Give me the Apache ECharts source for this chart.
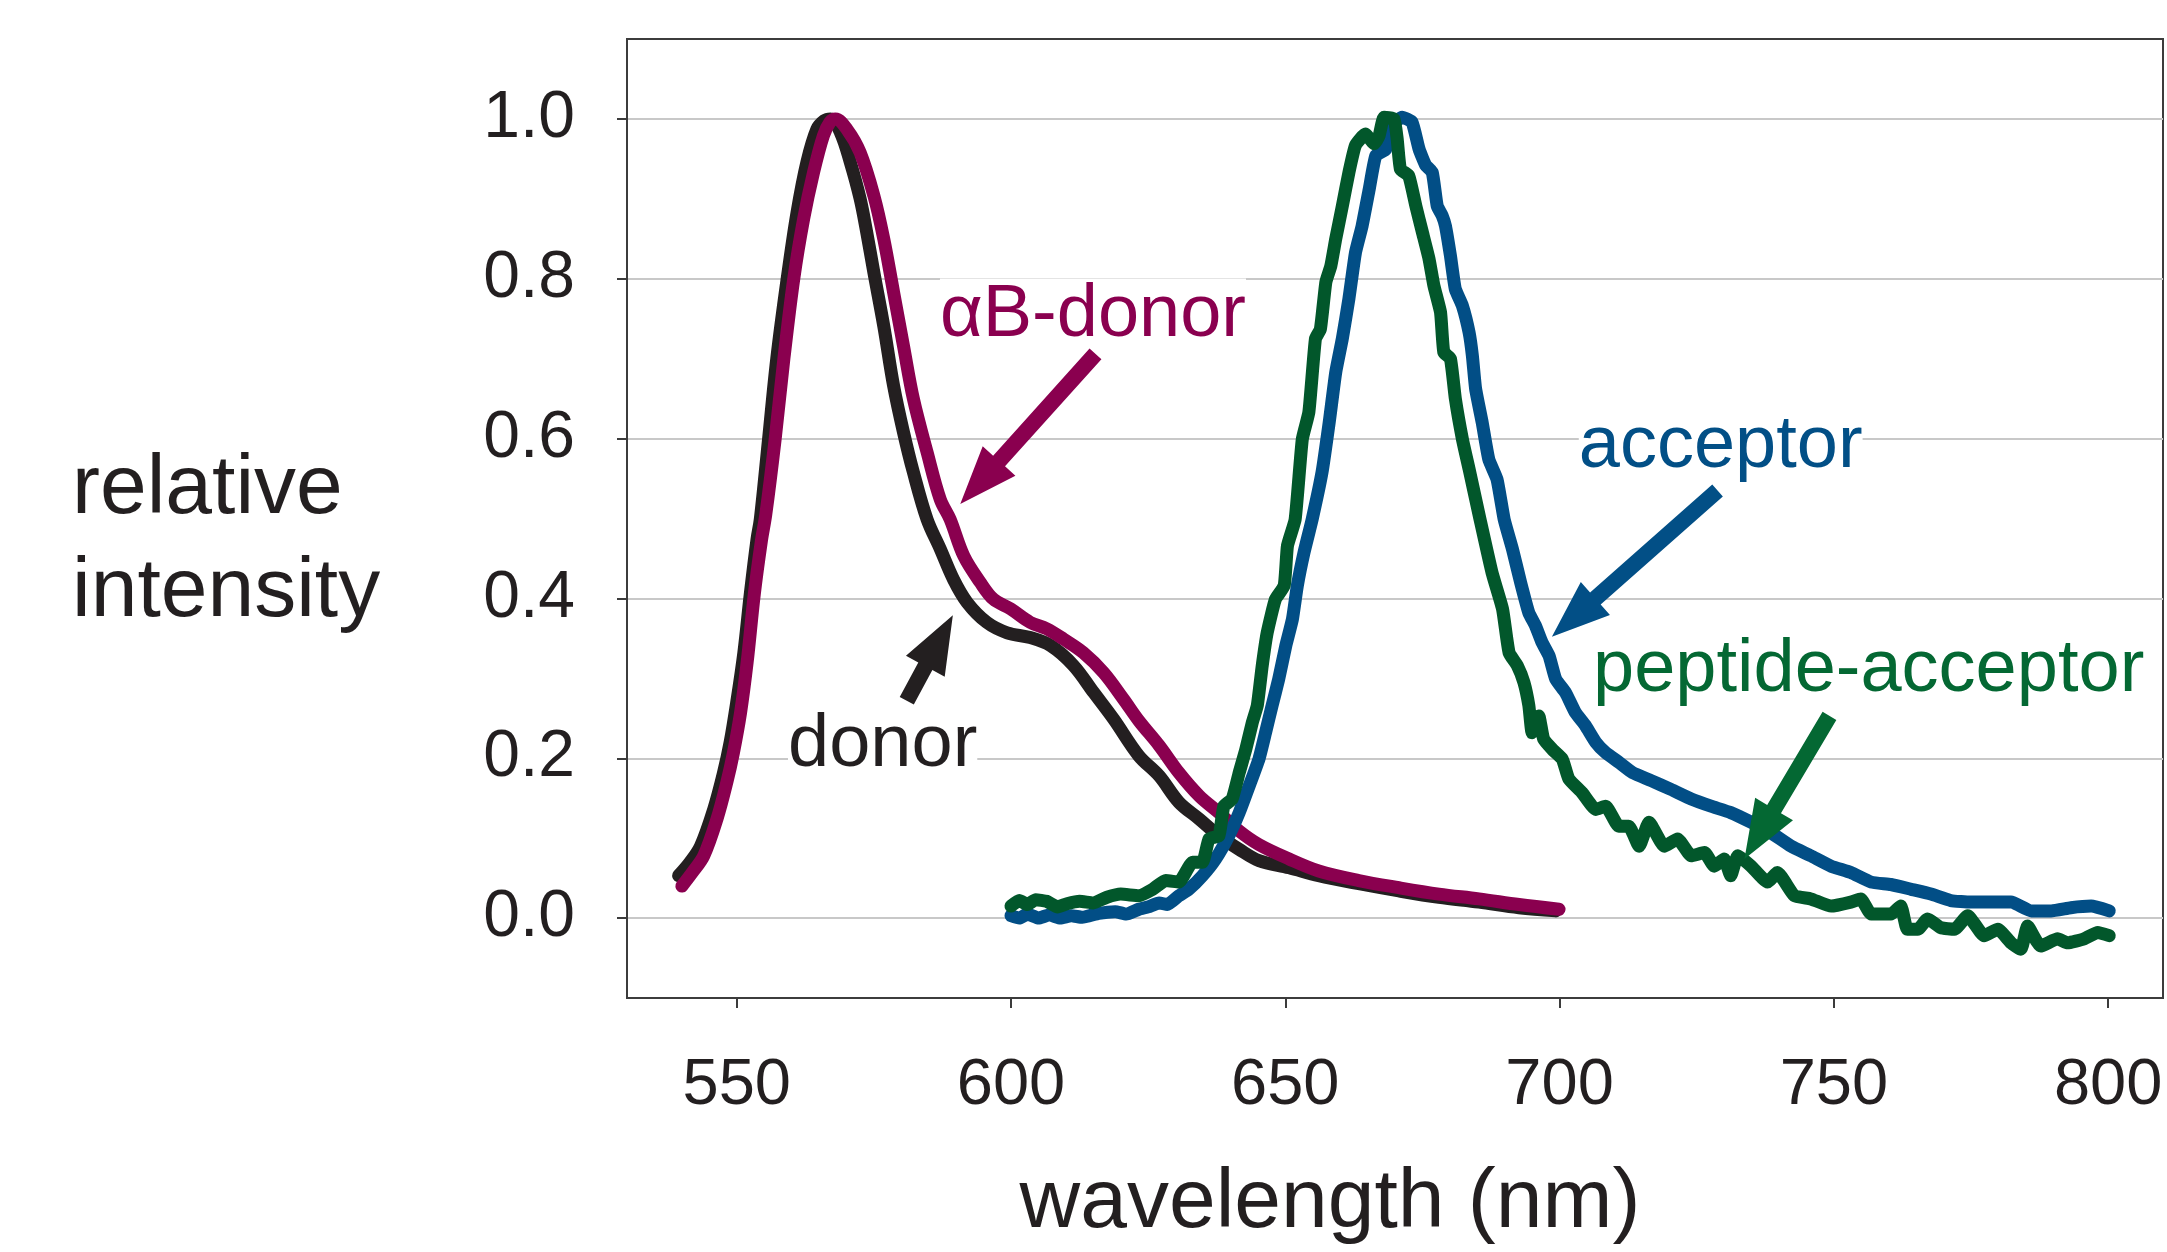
<!DOCTYPE html>
<html><head><meta charset="utf-8">
<script src="https://cdn.jsdelivr.net/npm/echarts@6/dist/echarts.min.js"></script>
<style>html,body{margin:0;padding:0;background:#fff;}#c{width:2167px;height:1252px;}</style>
</head><body><div id="c"></div>
<script>
// ---------- data ----------
const xTicks = [550, 600, 650, 700, 750, 800];
const yTicks = [0, 0.2, 0.4, 0.6, 0.8, 1.0];

const donorNm = [539.4,541.5,543.4,545.8,547.6,548.8,550.0,551.3,552.5,553.7,554.3,555.8,557.3,559.2,561.0,562.8,564.6,566.0,567.1,568.9,570.7,572.5,573.7,575.0,576.8,578.6,580.4,582.2,584.7,587.1,589.5,592.0,595.6,599.3,603.5,607.2,611.4,615.1,618.7,623.3,627.0,630.6,634.3,637.9,641.6,645.2,650.7,656.1,663.4,670.7,678.0,685.3,692.6,699.3];
const donorVal = [0.053,0.070,0.090,0.136,0.182,0.220,0.270,0.332,0.407,0.474,0.499,0.599,0.700,0.800,0.883,0.946,0.987,0.998,1.000,0.983,0.946,0.900,0.858,0.808,0.741,0.666,0.608,0.558,0.499,0.462,0.424,0.395,0.370,0.357,0.351,0.341,0.316,0.282,0.249,0.203,0.178,0.145,0.124,0.103,0.086,0.072,0.063,0.053,0.043,0.034,0.026,0.020,0.013,0.009];

const abDonorNm = [540.0,542.0,544.0,546.4,548.2,549.4,550.7,551.9,553.2,554.5,555.3,557.0,558.6,560.4,562.2,564.0,565.8,567.0,568.0,570.1,572.5,575.0,576.8,578.6,580.4,582.2,584.7,587.1,588.9,591.4,594.4,596.8,599.9,603.5,606.5,609.6,613.2,616.9,620.5,623.3,627.0,630.6,634.3,637.9,641.6,645.2,650.7,656.1,663.4,670.7,678.0,685.3,692.6,699.9];
const abDonorVal = [0.040,0.058,0.078,0.124,0.170,0.207,0.257,0.320,0.405,0.472,0.505,0.599,0.700,0.800,0.875,0.933,0.979,0.996,1.000,0.987,0.958,0.904,0.850,0.783,0.716,0.650,0.583,0.524,0.499,0.453,0.420,0.399,0.387,0.370,0.362,0.349,0.332,0.307,0.274,0.247,0.216,0.182,0.153,0.132,0.109,0.092,0.074,0.059,0.047,0.038,0.030,0.024,0.017,0.011];

const acceptorNm = [600.0,601.5,603.0,605.0,607.0,609.0,611.0,613.0,616.0,619.0,621.0,623.3,625.0,627.0,628.5,630.6,632.4,634.9,637.3,639.7,641.6,643.4,645.2,646.4,647.6,648.8,650.1,651.3,652.2,653.4,654.9,656.7,658.0,659.2,660.4,661.6,662.8,664.0,665.3,666.5,668.3,669.5,671.3,673.1,674.4,675.6,676.8,677.7,678.6,679.2,680.1,681.0,682.3,683.5,684.1,684.7,685.9,687.1,688.6,689.9,691.4,692.9,694.4,695.6,696.8,698.1,699.3,701.1,702.9,704.7,706.6,708.4,710.8,713.3,716.7,720.3,724.0,727.6,731.2,734.9,738.5,742.2,745.8,749.5,753.1,756.8,760.4,764.1,767.7,771.3,775.0,778.6,782.3,786.0,789.6,793.2,796.9,800.2];
const acceptorVal = [0.003,0.000,0.005,0.000,0.004,0.000,0.003,0.001,0.006,0.008,0.005,0.011,0.014,0.019,0.017,0.028,0.036,0.053,0.074,0.103,0.132,0.165,0.199,0.232,0.266,0.299,0.341,0.374,0.416,0.457,0.499,0.558,0.620,0.683,0.725,0.775,0.833,0.866,0.912,0.954,0.962,0.992,1.002,0.996,0.962,0.942,0.933,0.891,0.879,0.866,0.829,0.787,0.766,0.733,0.704,0.662,0.620,0.574,0.549,0.499,0.462,0.420,0.382,0.366,0.345,0.328,0.299,0.282,0.257,0.241,0.220,0.207,0.195,0.182,0.172,0.161,0.149,0.140,0.132,0.120,0.107,0.090,0.078,0.065,0.057,0.045,0.042,0.036,0.030,0.022,0.020,0.020,0.020,0.009,0.009,0.013,0.015,0.009];

const peptideNm = [600.0,601.5,603.0,604.5,606.5,608.5,610.2,612.5,615.0,617.5,620.0,623.3,625.8,628.2,630.6,633.1,634.9,636.1,637.9,638.8,640.3,641.6,642.8,644.0,644.9,645.8,646.7,648.2,649.8,650.4,651.8,653.1,654.3,655.5,656.4,657.4,658.3,659.2,660.4,661.6,662.8,664.6,666.2,667.1,668.0,669.8,670.4,671.0,672.5,673.8,675.0,676.2,677.1,678.3,678.9,680.1,681.0,682.3,683.5,685.5,687.7,689.6,690.8,692.3,693.5,694.4,695.0,696.2,697.1,698.7,700.5,701.7,704.1,706.6,708.4,710.8,712.6,714.5,716.3,719.1,721.5,724.0,726.4,728.2,730.0,731.2,732.5,734.9,737.9,739.7,742.8,745.8,749.5,753.1,754.9,756.8,760.4,762.2,763.4,765.3,767.1,769.5,772.0,774.4,777.4,779.9,782.3,784.1,785.3,787.7,790.8,792.6,795.6,798.1,800.2];
const peptideVal = [0.015,0.022,0.017,0.023,0.021,0.014,0.018,0.021,0.019,0.026,0.030,0.028,0.036,0.047,0.045,0.070,0.070,0.099,0.103,0.140,0.149,0.182,0.211,0.245,0.266,0.316,0.357,0.399,0.416,0.466,0.499,0.599,0.633,0.725,0.737,0.796,0.816,0.850,0.891,0.933,0.967,0.981,0.969,0.979,1.002,1.000,0.975,0.937,0.929,0.891,0.858,0.825,0.791,0.758,0.708,0.700,0.650,0.599,0.562,0.499,0.432,0.387,0.332,0.316,0.295,0.266,0.232,0.253,0.224,0.211,0.199,0.174,0.157,0.136,0.140,0.115,0.115,0.090,0.120,0.090,0.099,0.078,0.082,0.065,0.074,0.053,0.078,0.065,0.045,0.057,0.028,0.024,0.015,0.020,0.024,0.005,0.005,0.015,-0.014,-0.014,-0.001,-0.012,-0.014,0.003,-0.022,-0.014,-0.031,-0.039,-0.010,-0.035,-0.026,-0.031,-0.026,-0.018,-0.022];

// annotation anchors in data space: text (left, baseline), arrow tail and tip
const annotations = [
  {text: 'αB-donor', color: '#8a004f', textAt: [587.05, 0.728], tail: [615.4, 0.706], tip: [590.75, 0.518]},
  {text: 'donor', color: '#231f20', textAt: [559.35, 0.190], tail: [581.0, 0.272], tip: [589.4, 0.379]},
  {text: 'acceptor', color: '#024f86', textAt: [703.5, 0.564], tail: [728.8, 0.535], tip: [698.6, 0.352]},
  {text: 'peptide-acceptor', color: '#046833', textAt: [706.1, 0.284], tail: [749.2, 0.253], tip: [733.7, 0.074]}
];

// ---------- chart ----------
const FONT = '"Liberation Sans", Arial, Helvetica, sans-serif';
const INK = '#231f20';
const zip = (a, b) => a.map((v, i) => [v, b[i]]);

const chart = echarts.init(document.getElementById('c'), null, {renderer: 'canvas'});

function lineSeries(name, nm, val, color, z, smooth) {
  return {
    name, type: 'line', data: zip(nm, val), showSymbol: false, symbol: 'none',
    smooth, z,
    lineStyle: {color, width: 13, cap: 'round', join: 'round'},
    emphasis: {disabled: true}, silent: true, animation: false
  };
}

chart.setOption({
  animation: false,
  backgroundColor: '#ffffff',
  grid: {
    left: 627, right: 4, top: 39, bottom: 254,
    containLabel: false, outerBoundsMode: 'none',
    show: true, borderColor: '#3c3c3c', borderWidth: 2, backgroundColor: 'transparent'
  },
  xAxis: {
    type: 'value', min: 530, max: 810,
    name: 'wavelength (nm)', nameLocation: 'middle', nameGap: 164,
    nameTextStyle: {fontFamily: FONT, fontSize: 84, color: INK, padding: [0, 130, 0, 0]},
    axisLine: {show: true, onZero: false, lineStyle: {color: '#3c3c3c', width: 2}},
    axisTick: {show: true, inside: false, length: 10, customValues: xTicks, lineStyle: {color: '#3c3c3c', width: 2}},
    axisLabel: {show: true, customValues: xTicks, margin: 56, fontFamily: FONT, fontSize: 65, color: INK},
    splitLine: {show: false}
  },
  yAxis: {
    type: 'value', min: -0.1, max: 1.1,
    name: '{a|relative}\n{b|intensity}', nameLocation: 'middle', nameRotate: 0, nameGap: 555,
    nameTextStyle: {fontFamily: FONT, fontSize: 84, color: INK, align: 'left', verticalAlign: 'middle',
      rich: {
        a: {fontFamily: FONT, fontSize: 84, color: INK, lineHeight: 149},
        b: {fontFamily: FONT, fontSize: 84, color: INK, lineHeight: 57}
      }},
    axisLine: {show: true, onZero: false, lineStyle: {color: '#3c3c3c', width: 2}},
    axisTick: {show: true, inside: false, length: 10, customValues: yTicks, lineStyle: {color: '#3c3c3c', width: 2}},
    axisLabel: {show: true, customValues: yTicks, margin: 52, fontFamily: FONT, fontSize: 66, color: INK,
      formatter: v => Number(v).toFixed(1)},
    splitLine: {show: true, lineStyle: {color: '#c8c8c8', width: 2}}
  },
  series: [
    lineSeries('donor', donorNm, donorVal, '#231f20', 2, 0.35),
    lineSeries('αB-donor', abDonorNm, abDonorVal, '#8a004f', 3, 0.35),
    lineSeries('acceptor', acceptorNm, acceptorVal, '#024e86', 4, 0.15),
    lineSeries('peptide-acceptor', peptideNm, peptideVal, '#02572b', 5, 0.15)
  ]
});

// ---------- annotations (positioned through the axis scales) ----------
function arrowPoints(T, P, sw, hw, hl) {
  const dx = P[0] - T[0], dy = P[1] - T[1];
  const L = Math.hypot(dx, dy);
  const ux = dx / L, uy = dy / L;
  const nx = -uy, ny = ux;
  const B = [P[0] - ux * hl, P[1] - uy * hl];
  return [
    [T[0] + nx * sw / 2, T[1] + ny * sw / 2],
    [B[0] + nx * sw / 2, B[1] + ny * sw / 2],
    [B[0] + nx * hw / 2, B[1] + ny * hw / 2],
    [P[0], P[1]],
    [B[0] - nx * hw / 2, B[1] - ny * hw / 2],
    [B[0] - nx * sw / 2, B[1] - ny * sw / 2],
    [T[0] - nx * sw / 2, T[1] - ny * sw / 2]
  ];
}

const toPx = p => chart.convertToPixel({gridIndex: 0}, p);
const ANN_SIZE = 74;
const graphics = [];
annotations.forEach(a => {
  const t = toPx(a.textAt);
  graphics.push({
    type: 'text', x: t[0], y: t[1] - 0.35 * ANN_SIZE + 5, z: 50, silent: true,
    style: {text: a.text, fill: a.color, fontSize: ANN_SIZE, fontFamily: FONT,
      align: 'left', verticalAlign: 'middle', backgroundColor: '#ffffff'}
  });
  graphics.push({
    type: 'polygon', z: 50, silent: true,
    shape: {points: arrowPoints(toPx(a.tail), toPx(a.tip), 16, 44, 58)},
    style: {fill: a.color}
  });
});
chart.setOption({graphic: graphics});
</script>
</body></html>
